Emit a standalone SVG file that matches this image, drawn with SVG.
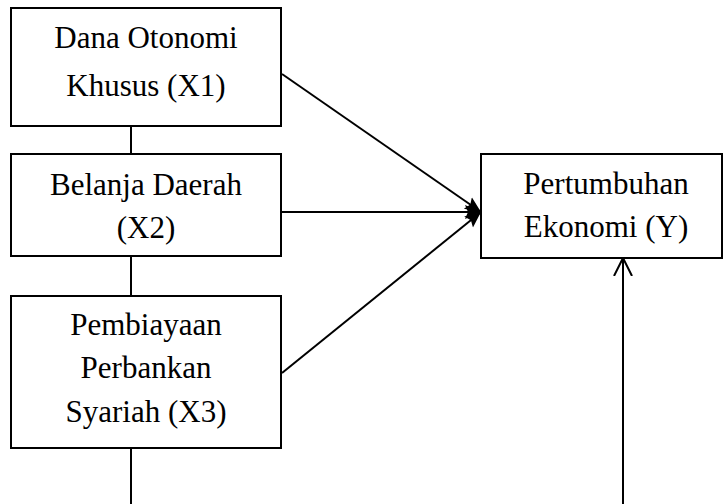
<svg xmlns="http://www.w3.org/2000/svg" width="723" height="504" viewBox="0 0 723 504">
<style>
.box{fill:#fff;stroke:#000;stroke-width:2}
.c{stroke:#000;stroke-width:2;fill:none}
</style>
<defs>
<marker id="fa" markerUnits="userSpaceOnUse" markerWidth="20" markerHeight="20" refX="16" refY="8" orient="auto">
<path d="M0,1 L16,8 L0,15 L3,8 Z" fill="#000"/>
</marker>
<marker id="oa" markerUnits="userSpaceOnUse" markerWidth="24" markerHeight="24" refX="18" refY="10" orient="auto">
<path d="M0,1 L18,10 L0,19" fill="none" stroke="#000" stroke-width="2"/>
</marker>
</defs>
<rect width="723" height="504" fill="#fff"/>
<g id="connectors">
<line class="c" x1="131" y1="126" x2="131" y2="154"/>
<line class="c" x1="131" y1="256" x2="131" y2="296"/>
<line class="c" x1="131" y1="448" x2="131" y2="504"/>
<line class="c" x1="282" y1="74" x2="481" y2="212" marker-end="url(#fa)"/>
<line class="c" x1="282" y1="212" x2="481" y2="212" marker-end="url(#fa)"/>
<line class="c" x1="282" y1="373" x2="481" y2="212" marker-end="url(#fa)"/>
<line class="c" x1="623" y1="504" x2="623" y2="258" marker-end="url(#oa)"/>
</g>
<g font-family="Liberation Serif, Times New Roman, serif" font-size="31" text-anchor="middle" fill="#000">
<g id="x1">
<rect class="box" x="11" y="8" width="270" height="118"/>
<text x="146" y="48">Dana Otonomi</text>
<text x="146" y="96">Khusus (X1)</text>
</g>
<g id="x2">
<rect class="box" x="11" y="154" width="270" height="102"/>
<text x="146" y="195">Belanja Daerah</text>
<text x="146" y="238">(X2)</text>
</g>
<g id="x3">
<rect class="box" x="11" y="296" width="270" height="152"/>
<text x="146" y="335">Pembiayaan</text>
<text x="146" y="378">Perbankan</text>
<text x="146" y="422">Syariah (X3)</text>
</g>
<g id="y">
<rect class="box" x="481" y="154" width="241" height="104"/>
<text x="606" y="194">Pertumbuhan</text>
<text x="606" y="237">Ekonomi (Y)</text>
</g>
</g>
</svg>
